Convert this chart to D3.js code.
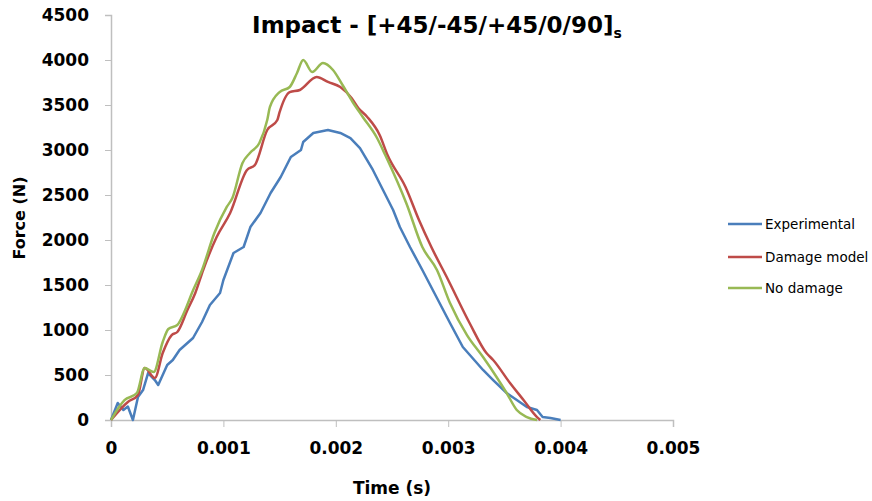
<!DOCTYPE html>
<head>
  <meta charset="utf-8">
  <script src="https://d3js.org/d3.v7.min.js"></script>
  <style>
  body,html {background:white;margin:0;font-family:"DejaVu Sans",sans-serif;}
  .axis path, .axis line {stroke:#bfbfbf;}
  .axis text {font-weight:bold;font-size:17px;fill:#000;font-family:"DejaVu Sans",sans-serif;}
  </style>
</head>
<body>
<svg id="chart"></svg>
<script>

  const width = 872, height = 501;

  // time values in seconds, force in N
  const expTime = [0, 0.00006, 0.00011, 0.00015, 0.000195, 0.00024, 0.000285, 0.00033, 0.00039, 0.00042,
    0.0005, 0.00055, 0.00061, 0.00066, 0.00073, 0.00081, 0.00088, 0.00097, 0.001, 0.00109,
    0.00118, 0.00124, 0.00133, 0.00142, 0.00151, 0.0016, 0.00169, 0.00171, 0.0018, 0.00193,
    0.00204, 0.00213, 0.002215, 0.00233, 0.00242, 0.00251, 0.00257, 0.00266, 0.00277, 0.003016,
    0.00313, 0.00331, 0.0034, 0.00352, 0.00361, 0.0037, 0.00379, 0.00384, 0.00391, 0.004];
  const expForce = [0, 189, 111, 150, 0, 256, 333, 522, 444, 389,
    611, 667, 778, 833, 911, 1089, 1278, 1411, 1556, 1856,
    1922, 2144, 2300, 2522, 2700, 2922, 3000, 3089, 3189, 3222,
    3189, 3133, 3022, 2778, 2556, 2333, 2144, 1922, 1667, 1078,
    811, 556, 444, 300, 222, 144, 111, 33, 22, 0];

  const dmgTime = [0, 0.00015, 0.00024, 0.0003, 0.00039, 0.00046, 0.00054, 0.00059, 0.00068, 0.00075,
    0.00082, 0.00094, 0.00106, 0.00121, 0.00128, 0.00139, 0.00148, 0.0015, 0.00159, 0.00168,
    0.00183, 0.00193, 0.00204, 0.00214, 0.0022, 0.00228, 0.00239, 0.00246, 0.00262, 0.00274,
    0.00285, 0.003, 0.00319, 0.00334, 0.0034, 0.00355, 0.00367, 0.00379, 0.00382];
  const dmgForce = [0, 200, 278, 578, 467, 744, 944, 978, 1222, 1411,
    1667, 2033, 2300, 2778, 2833, 3222, 3333, 3420, 3644, 3667,
    3811, 3756, 3700, 3578, 3467, 3367, 3167, 2944, 2589, 2222,
    1922, 1556, 1078, 744, 667, 411, 222, 33, 0];

  const noDmgTime = [0, 0.00012, 0.00023, 0.0003, 0.00038, 0.00046, 0.00051, 0.00059, 0.00066, 0.00072,
    0.00081, 0.00092, 0.00103, 0.00108, 0.00117, 0.001236, 0.00132, 0.00139, 0.001414, 0.0015,
    0.00159, 0.001655, 0.00171, 0.00179, 0.001886, 0.001975, 0.00206, 0.00215, 0.00224, 0.002367,
    0.00244, 0.00263, 0.00277, 0.0029, 0.003016, 0.003167, 0.00331, 0.00343, 0.00352, 0.00361,
    0.0037, 0.00379];
  const noDmgForce = [0, 220, 300, 578, 533, 867, 1011, 1056, 1222, 1411,
    1667, 2078, 2367, 2467, 2856, 2967, 3078, 3333, 3478, 3644,
    3700, 3856, 4000, 3867, 3967, 3889, 3722, 3533, 3367, 3133,
    2944, 2400, 1922, 1667, 1300, 944, 700, 478, 300, 111,
    33, 0];

  const seriesNames = ["Experimental", "Damage model", "No damage"];
  const seriesColors = ["#4a7ebb", "#be4b48", "#98b954"];
  const xTicks = [0, 0.001, 0.002, 0.003, 0.004, 0.005];
  const yTicks = [0, 500, 1000, 1500, 2000, 2500, 3000, 3500, 4000, 4500];

  const series = [
    {name: seriesNames[0], color: seriesColors[0], pts: expTime.map((t, i) => [t, expForce[i]]), curve: d3.curveLinear},
    {name: seriesNames[1], color: seriesColors[1], pts: dmgTime.map((t, i) => [t, dmgForce[i]]), curve: d3.curveMonotoneX},
    {name: seriesNames[2], color: seriesColors[2], pts: noDmgTime.map((t, i) => [t, noDmgForce[i]]), curve: d3.curveMonotoneX}
  ];

  const svg = d3.select("#chart").attr("width", width).attr("height", height);

  const x = d3.scaleLinear().domain([0, 0.005]).range([111, 673]);
  const y = d3.scaleLinear().domain([0, 4500]).range([420, 15]);

  // axes
  svg.append("g")
    .attr("class", "axis")
    .attr("transform", "translate(0,420)")
    .call(d3.axisBottom(x).tickValues(xTicks).tickSize(7).tickPadding(15)
      .tickFormat(d => d === 0 ? "0" : d.toFixed(3)));

  svg.append("g")
    .attr("class", "axis")
    .attr("transform", "translate(111,0)")
    .call(d3.axisLeft(y).tickValues(yTicks).tickSize(6).tickPadding(16).tickFormat(d3.format("d")));

  svg.selectAll(".axis .domain").attr("stroke", "#bfbfbf").attr("stroke-width", 1.5);

  // lines
  series.forEach(s => {
    svg.append("path")
      .datum(s.pts)
      .attr("fill", "none")
      .attr("stroke", s.color)
      .attr("stroke-width", 2.5)
      .attr("stroke-linejoin", "round")
      .attr("d", d3.line().x(d => x(d[0])).y(d => y(d[1])).curve(s.curve));
  });

  // title
  let title = svg.append("text")
    .attr("x", 437).attr("y", 33)
    .attr("text-anchor", "middle")
    .style("font-weight", "bold").style("font-size", "23px");
  title.append("tspan").text("Impact - [+45/-45/+45/0/90]");
  title.append("tspan").attr("dy", 5).style("font-size", "14px").text("s");

  // axis labels
  svg.append("text")
    .attr("x", 392).attr("y", 494)
    .attr("text-anchor", "middle")
    .style("font-weight", "bold").style("font-size", "17px")
    .text("Time (s)");

  svg.append("text")
    .attr("transform", "translate(25,218) rotate(-90)")
    .attr("text-anchor", "middle")
    .style("font-weight", "bold").style("font-size", "16px")
    .text("Force (N)");

  // legend
  const legend = svg.selectAll(".legend")
    .data(series)
    .enter()
    .append("g")
    .attr("class", "legend")
    .attr("transform", (d, i) => `translate(728,${[224, 257, 288][i]})`);

  legend.append("line")
    .attr("x1", 0).attr("x2", 34)
    .attr("stroke", d => d.color)
    .attr("stroke-width", 2.5);

  legend.append("text")
    .attr("x", 37).attr("y", 5)
    .style("font-size", "13.5px")
    .text(d => d.name);

</script>
</body>
